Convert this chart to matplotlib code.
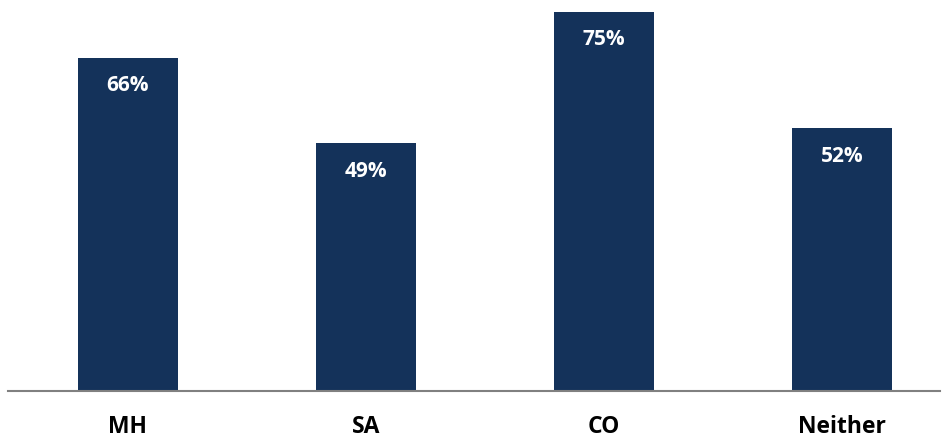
import numpy as np
import matplotlib.pyplot as plt

categories = ["MH", "SA", "CO", "Neither"]
values = [66, 49, 75, 52]

plt.rcParams['font.family'] = ['Open Sans', 'DejaVu Sans']

fig = plt.figure(figsize=(9.49, 4.40), dpi=100)
ax = fig.add_axes([8 / 949, 49 / 440, 932 / 949, 391 / 440])

x = np.arange(len(categories))
bars = ax.bar(x, values, width=0.42, color='#14325a')

# value labels inside the top of each bar
for xi, v in zip(x, values):
    ax.text(xi, v - 5.5, "%d%%" % v, ha='center', va='center',
            color='white', fontsize=15, fontweight='bold')

ax.set_xlim(-0.504, 3.412)
ax.set_ylim(0, 77.4)
ax.set_xticks(x)
ax.set_xticklabels(categories, fontsize=16.5, fontweight='bold')
ax.tick_params(axis='x', length=0, pad=17)
ax.set_yticks([])
for side in ['top', 'right', 'left']:
    ax.spines[side].set_visible(False)
ax.spines['bottom'].set_color('#808080')
ax.spines['bottom'].set_linewidth(1.5)

plt.savefig('out.png', dpi=100)
